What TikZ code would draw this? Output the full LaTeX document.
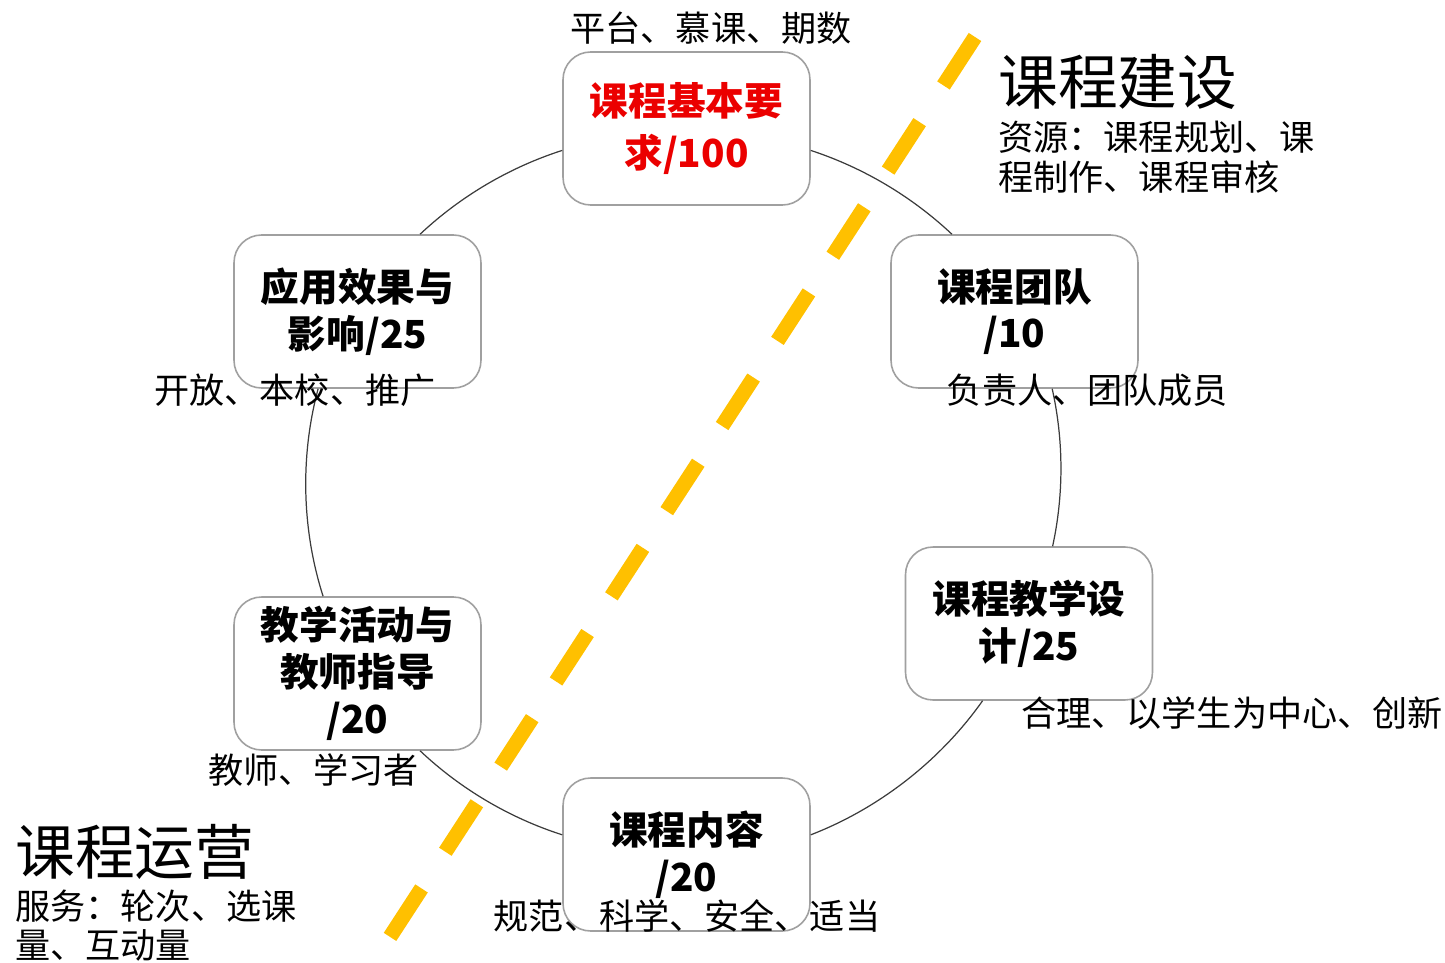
\documentclass[tikz,border=0pt]{standalone}
\usepackage{fontspec}
\setmainfont{Noto Sans CJK SC}
\definecolor{dashgold}{RGB}{255,192,0}
\definecolor{boxline}{RGB}{160,160,160}
\definecolor{ringline}{RGB}{60,60,60}
\definecolor{hotred}{RGB}{235,0,0}

\begin{document}
\begin{tikzpicture}[x=0.02cm, y=-0.02cm, every node/.style={inner sep=0pt},
    box/.style={draw=boxline, line width=0.9pt, rounded corners=0.55cm, fill=white, minimum width=4.94cm, minimum height=3.06cm, align=center, font=\fontsize{22}{26.6}\selectfont\bfseries},
    note/.style={font=\fontsize{20}{22.6}\selectfont, align=left},
    big/.style={font=\fontsize{34}{40}\selectfont},
    ring/.style={draw=ringline, line width=0.7pt, looseness=0.86}]

    \useasboundingbox (0,0) rectangle (1445,963);

    \node[box, text=hotred, font=\fontsize{22}{30}\selectfont\bfseries] (1) at (686.5,128.5) {课程基本要\\求/100};
    \node[box] (2) at (1014.5,311.5) {课程团队\\/10};
    \node[box] (3) at (1029,623.5) {课程教学设\\计/25};
    \node[box] (4) at (686.5,854.5) {课程内容\\/20};
    \node[box] (5) at (357.5,673.5) {教学活动与\\教师指导\\/20};
    \node[box] (6) at (357.5,311.5) {应用效果与\\影响/25};

    \draw[ring, bend left=12.5] (1.350) to (2.129);
    \draw[ring, bend left=12.4] (2.296) to (3.73.5);
    \draw[ring, bend left=16.8] (3.239) to (4.9.6);
    \draw[ring, bend left=12.8] (4.171) to (5.309);
    \draw[ring, bend left=16.4] (5.114) to (6.243);
    \draw[ring, bend left=12.7] (6.51) to (1.190);

    \node[note] (7) at (711,28) {平台、慕课、期数};
    \node[note] (8) at (1087.5,390) {负责人、团队成员};
    \node[note] (9) at (1232,713) {合理、以学生为中心、创新};
    \node[note] (10) at (687,916) {规范、科学、安全、适当};
    \node[note] (11) at (313.5,770) {教师、学习者};
    \node[note] (12) at (295,390) {开放、本校、推广};

    \node[big, anchor=west] (13) at (998,82) {课程建设};
    \node[note, anchor=west] (14) at (998,157) {资源：课程规划、课\\程制作、课程审核};
    \node[big, anchor=west] (15) at (15,852) {课程运营};
    \node[note, anchor=west] (16) at (15,925.5) {服务：轮次、选课\\量、互动量};

    \coordinate (d1) at (975,37);
    \coordinate (d2) at (388,940);
    \draw[dashgold, line width=8.5pt, dash pattern=on 32.9pt off 24.9pt] (d1) -- (d2);

\end{tikzpicture}
\end{document}
